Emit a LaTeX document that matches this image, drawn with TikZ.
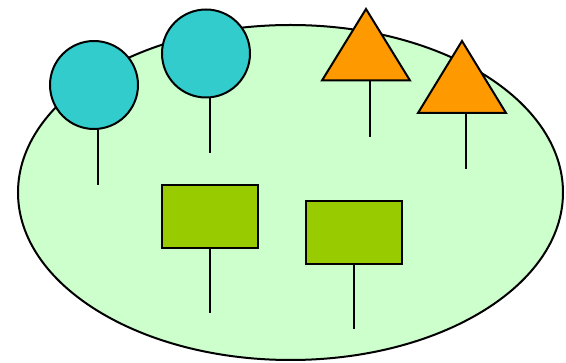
\documentclass[tikz,border=0pt]{standalone}
\begin{document}
\begin{tikzpicture}[x=1pt,y=-1pt,
  outl/.style={draw=black,line width=2pt},
  blob/.style={outl,fill=ground},
  ball/.style={circle,outl,fill=ballc,minimum size=88pt,inner sep=0pt},
  boxr/.style={rectangle,outl,fill=boxc,minimum width=96pt,minimum height=63pt,inner sep=0pt},
  tri/.style={outl,fill=tric,line join=miter},
  stem/.style={draw=black,line width=1.2pt}]
\definecolor{ground}{HTML}{CCFFCC}
\definecolor{ballc}{HTML}{33CCCC}
\definecolor{tric}{HTML}{FF9900}
\definecolor{boxc}{HTML}{99CC00}
\useasboundingbox (0,0) rectangle (566,363);
% ground ellipse
\path[blob] (290.5,192.5) ellipse [x radius=272.5, y radius=167.5];
% circles
\node[ball] (c1) at (94,85) {};
\node[ball] (c2) at (206,53.5) {};
\coordinate (c1e) at (98,185);
\coordinate (c2e) at (210,153);
\draw[stem] (c1.south -| c1e) -- (c1e);
\draw[stem] (c2.south -| c2e) -- (c2e);
% triangles
\coordinate (t1a) at (366,9);
\coordinate (t1l) at (322,80.5);
\coordinate (t1r) at (410,80.5);
\path[tri] (t1a) -- (t1l) -- (t1r) -- cycle;
\coordinate (t1b) at (370,80.5);
\coordinate (t1e) at (370,137);
\draw[stem] (t1b) -- (t1e);
\coordinate (t2a) at (462,41);
\coordinate (t2l) at (418,113);
\coordinate (t2r) at (506,113);
\path[tri] (t2a) -- (t2l) -- (t2r) -- cycle;
\coordinate (t2b) at (466,113);
\coordinate (t2e) at (466,169);
\draw[stem] (t2b) -- (t2e);
% rectangles
\node[boxr] (r1) at (210,217) {};
\node[boxr] (r2) at (354,233) {};
\coordinate (r1e) at (210,313);
\coordinate (r2e) at (354,329);
\draw[stem] (r1.south) -- (r1e);
\draw[stem] (r2.south) -- (r2e);
\end{tikzpicture}
\end{document}
